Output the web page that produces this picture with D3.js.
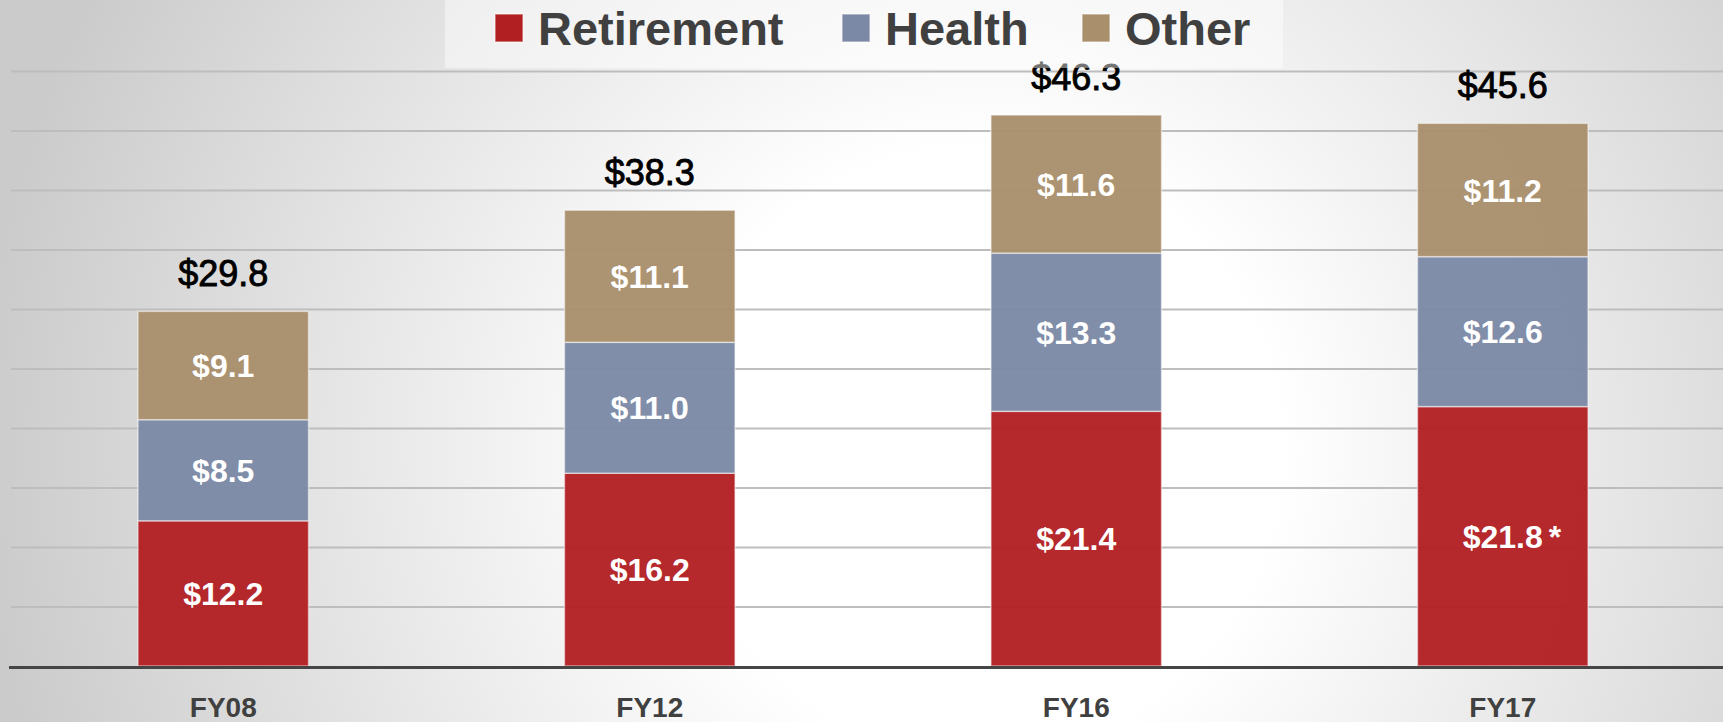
<!DOCTYPE html>
<html>
<head>
<meta charset="utf-8">
<script src="https://cdn.jsdelivr.net/npm/d3@7"></script>
<style>
  html, body { margin: 0; padding: 0; background: #fff; }
  svg { display: block; font-family: "Liberation Sans", Arial, sans-serif; }
</style>
</head>
<body>
<svg id="chart" width="1723" height="722"></svg>
<script>
// spending by category, $ billions
const categories = ['FY08', 'FY12', 'FY16', 'FY17'];
const retirement = [12.2, 16.2, 21.4, 21.8];
const health = [8.5, 11.0, 13.3, 12.6];
const other = [9.1, 11.1, 11.6, 11.2];
const totals = [29.8, 38.3, 46.3, 45.6];
const notes = ['', '', '', '*'];   // footnote mark on the retirement figure

const seriesKeys = ['Retirement', 'Health', 'Other'];
const colors = { Retirement: '#b21f23', Health: '#7c89a6', Other: '#a98f6b' };

const W = 1723, H = 722;
const base = 666;
const svg = d3.select('#chart');

// soft radial backdrop — white in the middle, grey towards the edges
const defs = svg.append('defs');
const grad = defs.append('radialGradient').attr('id', 'bg')
  .attr('gradientUnits', 'userSpaceOnUse')
  .attr('cx', 980).attr('cy', 450).attr('r', 1000);
grad.append('stop').attr('offset', 0).attr('stop-color', '#ffffff');
grad.append('stop').attr('offset', 0.3).attr('stop-color', '#ffffff');
grad.append('stop').attr('offset', 1).attr('stop-color', '#cbcbcb');
svg.append('rect').attr('width', W).attr('height', H).attr('fill', 'url(#bg)');

const x = d3.scaleBand().domain(categories).range([10, 1716])
  .paddingInner(0.6).paddingOuter(0.3);
const y = d3.scaleLinear().domain([0, 50]).range([base, 71]);

// gridlines every $5
svg.append('g')
  .attr('transform', 'translate(11,0)')
  .call(d3.axisLeft(y).tickValues(y.ticks(10).filter((d) => d > 0))
    .tickSize(-(W - 11)).tickFormat(''))
  .call((g) => g.select('.domain').remove())
  .call((g) => g.selectAll('.tick line').attr('stroke', '#bdbdbd').attr('stroke-width', 2));

const rows = categories.map((c, i) => ({
  cat: c, Retirement: retirement[i], Health: health[i], Other: other[i],
}));
const stacked = d3.stack().keys(seriesKeys)(rows);

const layer = svg.append('g').selectAll('g').data(stacked).join('g')
  .attr('fill', (d) => colors[d.key]);

layer.selectAll('rect').data((d) => d).join('rect')
  .attr('x', (d) => x(d.data.cat))
  .attr('width', x.bandwidth())
  .attr('y', (d) => y(d[1]))
  .attr('height', (d) => y(d[0]) - y(d[1]))
  .attr('fill-opacity', 0.96)
  .attr('stroke', '#ffffff')
  .attr('stroke-opacity', 0.5)
  .attr('stroke-width', 1.5);

// white segment values
layer.selectAll('text').data((d) => d.map((v) => ({ v, key: d.key }))).join('text')
  .attr('x', (d) => x(d.v.data.cat) + x.bandwidth() / 2)
  .attr('y', (d) => (y(d.v[0]) + y(d.v[1])) / 2)
  .attr('dy', '0.36em')
  .attr('text-anchor', 'middle')
  .attr('fill', '#fff')
  .attr('font-weight', 'bold')
  .attr('font-size', 32)
  .text((d) => '$' + d.v.data[d.key].toFixed(1));

// footnote asterisk hangs to the right of the centred figure
svg.append('g').selectAll('text').data(categories.filter((c, i) => notes[i])).join('text')
  .attr('x', (c) => x(c) + x.bandwidth() / 2 + 46)
  .attr('y', (c) => (y(0) + y(retirement[categories.indexOf(c)])) / 2)
  .attr('dy', '0.36em')
  .attr('fill', '#fff')
  .attr('font-weight', 'bold')
  .attr('font-size', 32)
  .text((c) => notes[categories.indexOf(c)]);

// totals above each bar
svg.append('g').selectAll('text').data(categories).join('text')
  .attr('x', (c) => x(c) + x.bandwidth() / 2)
  .attr('y', (c, i) => y(totals[i]) - 25)
  .attr('text-anchor', 'middle')
  .attr('fill', '#000')
  .attr('stroke', '#000').attr('stroke-width', 0.9)
  .attr('font-size', 36)
  .text((c, i) => '$' + totals[i].toFixed(1));

// category axis
svg.append('g')
  .attr('transform', `translate(0,${base})`)
  .call(d3.axisBottom(x).tickSize(0).tickPadding(31))
  .call((g) => g.select('.domain').remove())
  .call((g) => g.selectAll('text')
    .attr('font-family', '"Liberation Sans", Arial, sans-serif')
    .attr('font-size', 28).attr('font-weight', 'bold').attr('fill', '#404040'));

svg.append('line')
  .attr('x1', 9).attr('x2', W)
  .attr('y1', base + 1.5).attr('y2', base + 1.5)
  .attr('stroke', '#454545').attr('stroke-width', 3);

// legend
svg.append('rect').attr('x', 445).attr('y', 0).attr('width', 838).attr('height', 68)
  .attr('fill', '#ffffff').attr('fill-opacity', 0.45);

const legendX = [495, 842, 1082];
const lg = svg.append('g').selectAll('g').data(seriesKeys).join('g')
  .attr('transform', (d, i) => `translate(${legendX[i]},14)`);
lg.append('rect').attr('width', 28).attr('height', 28)
  .attr('fill', (d) => colors[d])
  .attr('stroke', '#ffffff').attr('stroke-opacity', 0.5).attr('stroke-width', 1.5);
lg.append('text')
  .attr('x', 43).attr('y', 31)
  .attr('font-size', 47).attr('font-weight', 'bold').attr('fill', '#404040')
  .text((d) => d);
</script>
</body>
</html>
